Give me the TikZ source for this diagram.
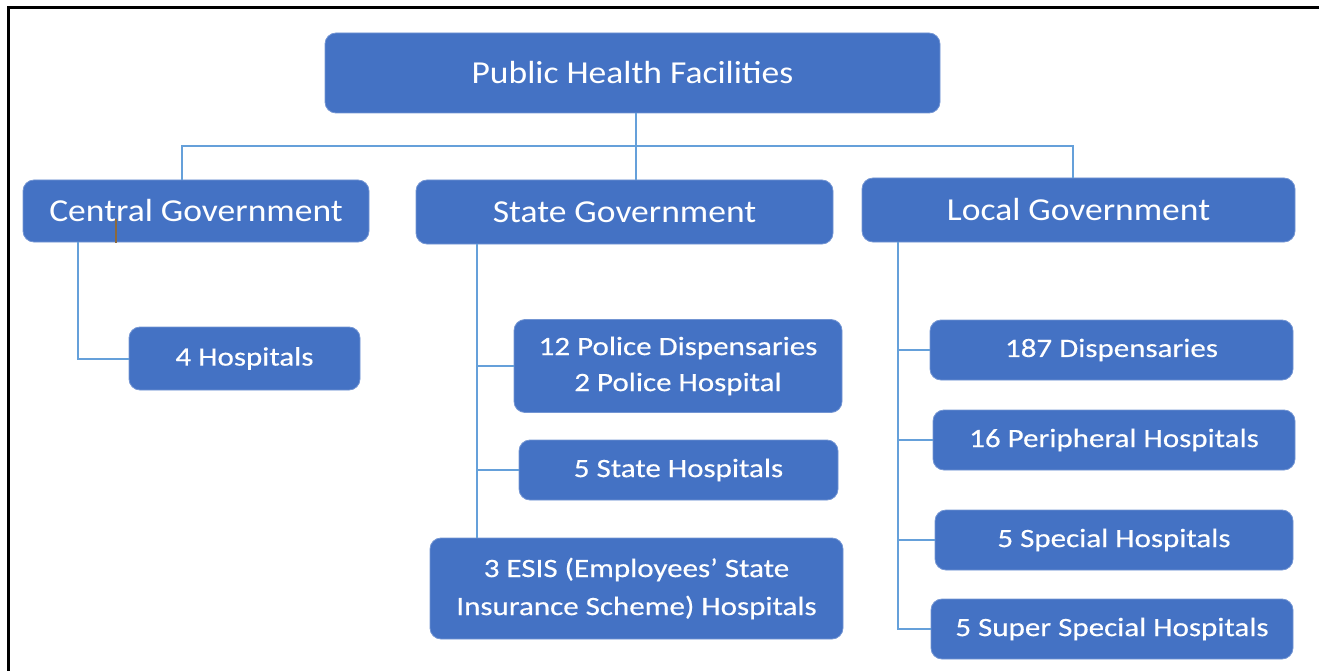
\documentclass[tikz,border=0pt]{standalone}
\usepackage{fontspec}
\setmainfont{Carlito}
\newfontfamily\headfont[FakeStretch=1.11]{Carlito}
\newfontfamily\itemfont[FakeStretch=1.17,FakeBold=0.4]{Carlito}
\usetikzlibrary{positioning}
\definecolor{boxblue}{RGB}{68,114,196}
\definecolor{linkblue}{RGB}{101,160,218}
\definecolor{tickbrown}{RGB}{140,105,60}

\begin{document}
\begin{tikzpicture}[x=1pt,y=-1pt,
  box/.style={fill=boxblue, draw=boxblue!75!white, line width=0.8pt, rounded corners=11pt, text=white, align=center, inner sep=0pt},
  headbox/.style={box, font=\headfont\fontsize{32}{40}\selectfont},
  itembox/.style={box, font=\itemfont\fontsize{26.5}{36}\selectfont},
  link/.style={draw=linkblue, line width=2pt}]
\useasboundingbox (0,0) rectangle (1319,671);
% frame
\draw[black, line width=3pt] (8,671) -- (8,8) -- (1319,8);

% top level
\node[headbox, minimum width=615pt, minimum height=80pt] (phf) at (632.5,73) {Public Health Facilities};

% government levels
\node[headbox, minimum width=346pt, minimum height=62pt] (cg) at (196,211) {Central Government};
\node[headbox, minimum width=417pt, minimum height=64pt] (sg) at (624.5,212) {State Government};
\node[headbox, minimum width=433pt, minimum height=64pt] (lg) at (1078.5,210) {Local Government};

% central
\node[itembox, minimum width=231pt, minimum height=63pt] (hosp4) at (244.5,358.5) {4 Hospitals};

% state
\node[itembox, minimum width=328pt, minimum height=93pt] (police) at (678,366) {12 Police Dispensaries\\2 Police Hospital};
\node[itembox, minimum width=319pt, minimum height=60pt] (shosp) at (678.5,470) {5 State Hospitals};
\node[itembox, minimum width=413pt, minimum height=101pt, font=\itemfont\fontsize{26.5}{38}\selectfont] (esis) at (636.5,588.5) {3 ESIS (Employees’ State\\Insurance Scheme) Hospitals};

% local
\node[itembox, minimum width=363pt, minimum height=60pt] (disp) at (1111.5,350) {187 Dispensaries};
\node[itembox, minimum width=362pt, minimum height=60pt] (peri) at (1114,440) {16 Peripheral Hospitals};
\node[itembox, minimum width=358pt, minimum height=60pt] (spec) at (1114,540) {5 Special Hospitals};
\node[itembox, minimum width=362pt, minimum height=60pt] (super) at (1112,629) {5 Super Special Hospitals};

% connectors
\coordinate (bus) at (636,146);
\coordinate (busl) at (182,146);
\coordinate (busr) at (1073,146);
\draw[link] (phf.south -| bus) -- (bus |- sg.north);
\draw[link] (busl |- cg.north) -- (busl) -- (busr) -- (busr |- lg.north);

\coordinate (cgl) at (78,242);
\draw[link] (cgl) |- (hosp4.west);

\coordinate (sgl) at (477,244);
\draw[link] (sgl) -- (sgl |- esis.north);
\foreach \n in {police,shosp}
  \draw[link] (sgl |- \n.west) -- (\n.west);

\coordinate (lgl) at (898,242);
\draw[link] (lgl) |- (super.west);
\foreach \n in {disp,peri,spec}
  \draw[link] (lgl |- \n.west) -- (\n.west);

% cursor mark
\draw[tickbrown, line width=1.2pt] (116,219) -- (116,243);
\end{tikzpicture}
\end{document}
